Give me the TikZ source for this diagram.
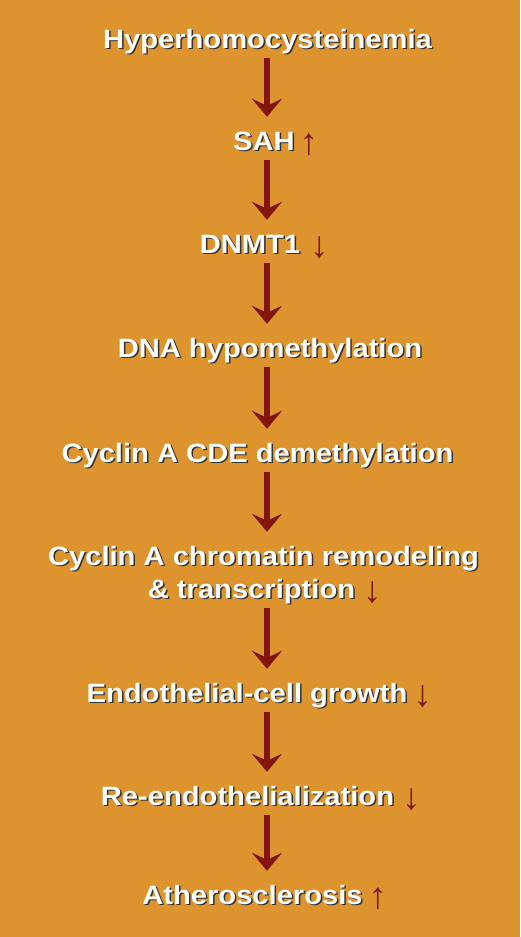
\documentclass[tikz,border=0pt]{standalone}
\usepackage{fontspec}
\setmainfont{Liberation Sans}[FakeStretch=1.1]
\newfontfamily\arrfont{Liberation Sans}
\usetikzlibrary{arrows.meta}
\definecolor{bg}{RGB}{221,147,46}
\definecolor{arr}{RGB}{130,22,12}
\tikzset{
  lbl/.style={font=\fontsize{26.5}{30}\selectfont\bfseries, text=white, anchor=base, inner sep=0pt, text height=19pt, text depth=6pt},
  shd/.style={lbl, text=black!80},
  sym/.style={font=\fontsize{37}{40}\arrfont, text=arr, anchor=center, inner sep=0pt},
  flow/.style={-{Stealth[length=18pt,width=30pt,inset=7pt]}, line width=6.5pt, draw=arr, shorten <=4pt, shorten >=14pt},
}
\newcommand\itm[4]{% name, x, y, text
  \node[shd] at (#2+1.5,#3+1.5) {#4};
  \node[lbl] (#1) at (#2,#3) {#4};
}
\begin{document}
\begin{tikzpicture}[x=1pt,y=-1pt]
\fill[bg] (0,0) rectangle (520,937);
\useasboundingbox (0,0) rectangle (520,937);
\coordinate (ax) at (267,0);
\itm{n1}{267.5}{48}{Hyperhomocysteinemia}
\itm{n2}{264}{150}{SAH}
\itm{n3}{250}{253}{DNMT1}
\itm{n4}{270}{357}{DNA hypomethylation}
\itm{n5}{257.5}{462}{Cyclin A CDE demethylation}
\itm{n6}{263.5}{565}{Cyclin A chromatin remodeling}
\itm{n6b}{251.5}{598}{\& transcription}
\itm{n7}{247}{702}{Endothelial-cell growth}
\itm{n8}{247.5}{805}{Re-endothelialization}
\itm{n9}{252.5}{904}{Atherosclerosis}
\node[sym] (a2) at ([xshift=14pt,yshift=5.5pt]n2.base east) {↑};
\node[sym] (a3) at ([xshift=19pt,yshift=5.5pt]n3.base east) {↓};
\node[sym] (a6) at ([xshift=17pt,yshift=5.5pt]n6b.base east) {↓};
\node[sym] (a7) at ([xshift=15pt,yshift=5.5pt]n7.base east) {↓};
\node[sym] (a8) at ([xshift=17pt,yshift=5.5pt]n8.base east) {↓};
\node[sym] (a9) at ([xshift=15pt,yshift=5.5pt]n9.base east) {↑};
\draw[flow] (n1.south -| ax) -- (n2.north -| ax);
\draw[flow] (n2.south -| ax) -- (n3.north -| ax);
\draw[flow] (n3.south -| ax) -- (n4.north -| ax);
\draw[flow] (n4.south -| ax) -- (n5.north -| ax);
\draw[flow] (n5.south -| ax) -- (n6.north -| ax);
\draw[flow] (n6b.south -| ax) -- (n7.north -| ax);
\draw[flow] (n7.south -| ax) -- (n8.north -| ax);
\draw[flow] (n8.south -| ax) -- (n9.north -| ax);
\end{tikzpicture}
\end{document}
